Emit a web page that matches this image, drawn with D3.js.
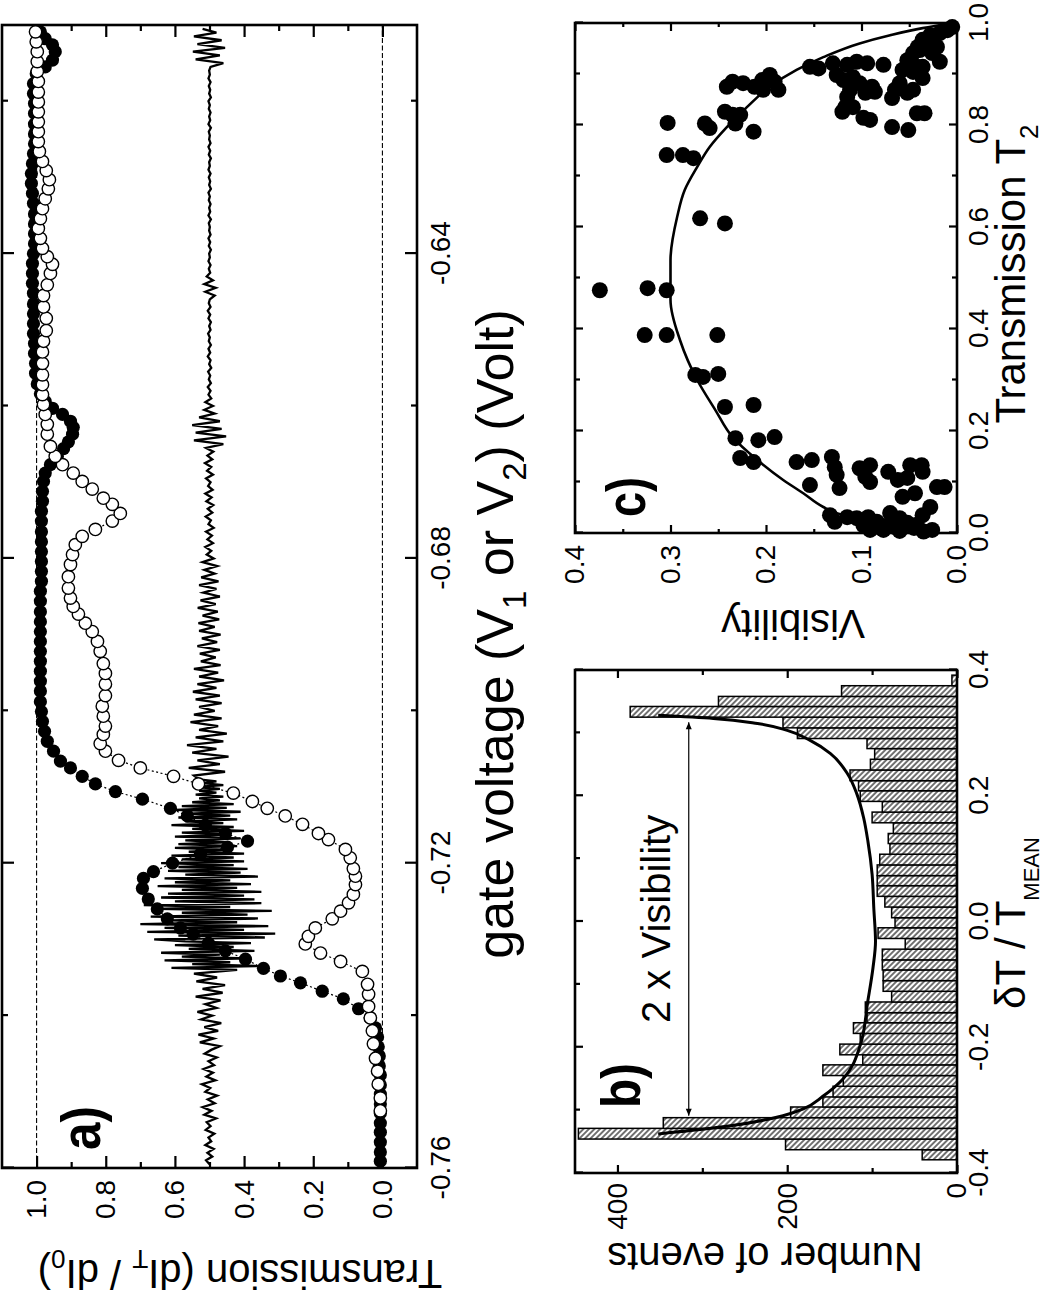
<!DOCTYPE html>
<html><head><meta charset="utf-8">
<script src="https://cdn.jsdelivr.net/npm/d3@7"></script>
<style>body{margin:0;background:#fff}svg{display:block}</style>
</head><body><svg id="chart" width="1050" height="1296"></svg>
<script>
// ---------- DATA ----------
// Panel a: transmission vs gate voltage
const filledCircles = [[-0.7591,0.006],[-0.7579,0.006],[-0.7566,0.006],[-0.7553,0.006],[-0.7541,0.006],[-0.7528,0.006],[-0.7516,0.006],[-0.7503,0.006],[-0.7491,0.006],[-0.7478,0.006],[-0.7466,0.009],[-0.7453,0.009],[-0.7441,0.012],[-0.7428,0.014],[-0.7416,0.020],[-0.7403,0.035],[-0.7391,0.069],[-0.7378,0.113],[-0.7368,0.174],[-0.7357,0.237],[-0.7348,0.295],[-0.7338,0.344],[-0.7326,0.396],[-0.7315,0.454],[-0.7305,0.503],[-0.7293,0.547],[-0.7285,0.584],[-0.7273,0.622],[-0.7260,0.651],[-0.7247,0.677],[-0.7233,0.694],[-0.7220,0.691],[-0.7211,0.662],[-0.7200,0.607],[-0.7188,0.526],[-0.7179,0.448],[-0.7171,0.390],[-0.7161,0.454],[-0.7150,0.512],[-0.7138,0.564],[-0.7128,0.613],[-0.7116,0.694],[-0.7106,0.772],[-0.7096,0.830],[-0.7086,0.868],[-0.7075,0.902],[-0.7066,0.931],[-0.7053,0.951],[-0.7040,0.969],[-0.7027,0.977],[-0.7014,0.983],[-0.7001,0.986],[-0.6988,0.989],[-0.6974,0.989],[-0.6961,0.989],[-0.6948,0.989],[-0.6935,0.989],[-0.6922,0.989],[-0.6909,0.989],[-0.6896,0.989],[-0.6883,0.989],[-0.6870,0.989],[-0.6856,0.989],[-0.6843,0.989],[-0.6830,0.986],[-0.6817,0.986],[-0.6804,0.986],[-0.6791,0.986],[-0.6778,0.986],[-0.6765,0.986],[-0.6751,0.986],[-0.6738,0.986],[-0.6725,0.983],[-0.6712,0.983],[-0.6699,0.980],[-0.6688,0.975],[-0.6677,0.960],[-0.6666,0.940],[-0.6656,0.922],[-0.6647,0.908],[-0.6637,0.896],[-0.6628,0.894],[-0.6620,0.902],[-0.6611,0.925],[-0.6603,0.954],[-0.6594,0.975],[-0.6584,0.989],[-0.6571,0.998],[-0.6557,1.003],[-0.6544,1.003],[-0.6531,1.006],[-0.6518,1.006],[-0.6505,1.009],[-0.6492,1.009],[-0.6479,1.009],[-0.6466,1.009],[-0.6452,1.009],[-0.6439,1.012],[-0.6426,1.012],[-0.6413,1.012],[-0.6400,1.009],[-0.6387,1.006],[-0.6374,1.006],[-0.6361,1.006],[-0.6348,1.006],[-0.6334,1.009],[-0.6321,1.012],[-0.6308,1.015],[-0.6295,1.015],[-0.6282,1.012],[-0.6269,1.009],[-0.6256,1.006],[-0.6243,1.006],[-0.6230,1.006],[-0.6216,1.006],[-0.6203,1.006],[-0.6190,1.009],[-0.6177,1.009],[-0.6164,1.001],[-0.6155,0.975],[-0.6146,0.954],[-0.6135,0.946],[-0.6126,0.954],[-0.6118,0.975],[-0.6109,0.989]];

const openCircles = [[-0.7525,0.006],[-0.7508,0.006],[-0.7490,0.012],[-0.7473,0.014],[-0.7456,0.020],[-0.7437,0.026],[-0.7420,0.029],[-0.7403,0.035],[-0.7388,0.040],[-0.7372,0.040],[-0.7359,0.043],[-0.7342,0.058],[-0.7329,0.121],[-0.7318,0.179],[-0.7306,0.223],[-0.7296,0.214],[-0.7285,0.194],[-0.7273,0.145],[-0.7263,0.121],[-0.7252,0.098],[-0.7241,0.084],[-0.7228,0.078],[-0.7217,0.078],[-0.7207,0.084],[-0.7193,0.093],[-0.7182,0.107],[-0.7169,0.156],[-0.7161,0.185],[-0.7149,0.231],[-0.7138,0.281],[-0.7128,0.333],[-0.7119,0.376],[-0.7108,0.431],[-0.7096,0.532],[-0.7086,0.604],[-0.7075,0.700],[-0.7065,0.763],[-0.7053,0.801],[-0.7043,0.816],[-0.7031,0.807],[-0.7020,0.801],[-0.7007,0.807],[-0.6994,0.810],[-0.6980,0.801],[-0.6965,0.801],[-0.6951,0.801],[-0.6938,0.807],[-0.6922,0.816],[-0.6909,0.824],[-0.6896,0.839],[-0.6885,0.859],[-0.6873,0.879],[-0.6863,0.894],[-0.6852,0.902],[-0.6839,0.908],[-0.6824,0.908],[-0.6808,0.902],[-0.6795,0.896],[-0.6782,0.888],[-0.6771,0.868],[-0.6762,0.830],[-0.6751,0.781],[-0.6741,0.758],[-0.6729,0.781],[-0.6721,0.807],[-0.6709,0.839],[-0.6699,0.868],[-0.6688,0.894],[-0.6677,0.925],[-0.6666,0.946],[-0.6653,0.960],[-0.6637,0.969],[-0.6624,0.969],[-0.6611,0.975],[-0.6598,0.980],[-0.6585,0.983],[-0.6572,0.983],[-0.6559,0.983],[-0.6544,0.983],[-0.6529,0.983],[-0.6515,0.980],[-0.6501,0.972],[-0.6485,0.972],[-0.6470,0.980],[-0.6455,0.980],[-0.6441,0.969],[-0.6426,0.960],[-0.6414,0.954],[-0.6404,0.969],[-0.6393,0.983],[-0.6380,0.989],[-0.6367,0.995],[-0.6354,0.989],[-0.6341,0.983],[-0.6328,0.975],[-0.6315,0.966],[-0.6303,0.963],[-0.6291,0.972],[-0.6279,0.983],[-0.6266,0.992],[-0.6253,0.995],[-0.6240,0.995],[-0.6227,0.995],[-0.6214,0.995],[-0.6201,0.995],[-0.6188,0.995],[-0.6174,0.995],[-0.6161,0.998],[-0.6148,0.998],[-0.6135,0.998],[-0.6122,1.001],[-0.6109,1.003]];

// noisy trace, three uniformly sampled stretches (start voltage, voltage step, values)
const noiseLowV0 = -0.7595, noiseLowDV = 0.0005;
const noiseLowT = [0.500,0.510,0.492,0.506,0.488,0.512,0.495,0.503,0.486,0.511,0.497,0.508,
0.481,0.515,0.494,0.520,0.485,0.505,0.478,0.512,0.498,0.522,0.483,0.509,0.490,0.517,0.487,0.503,0.479,0.514,0.495,
0.470,0.528,0.488,0.532,0.475,0.515,0.466,0.524,0.492,0.535,0.480,0.512,0.468,
0.540,0.462,0.520,0.455,0.538,0.478,0.545];
const noiseBurstV0 = -0.7340, noiseBurstDV = 0.00025;
const noiseBurstT = [0.42,0.61,0.36,0.55,0.44,0.63,0.39,0.58,0.47,0.64,0.37,0.56,0.43,0.60,0.38,0.57,
0.66,0.34,0.59,0.31,0.68,0.40,0.63,0.33,0.70,0.42,0.61,0.36,0.67,0.39,0.58,0.32,0.65,0.44,0.69,0.35,0.60,
0.37,0.64,0.40,0.62,0.35,0.58,0.42,0.65,0.38,0.60,0.44,0.63,0.36,0.57,0.41,0.62,0.39,0.59,0.43,0.64,0.40,
0.58,0.43,0.61,0.40,0.56,0.44,0.60,0.42,0.59,0.45,0.57,0.41,0.60,0.44,0.58,0.40,0.55,0.43,0.61,0.46,0.57,0.42,0.59,0.44,0.56,0.41,0.60,0.45,0.58,0.43,0.55,
0.47,0.53,0.46,0.54,0.48,0.53,0.47,0.54,0.46,0.52,0.48,0.53];
const noiseHighV0 = -0.7085, noiseHighDV = 0.0005;
const noiseHighT = [0.545,0.455,0.560,0.470,0.535,0.445,0.550,0.480,0.565,0.460,0.540,0.450,0.530,0.475,0.555,0.465,0.545,0.485,0.530,
0.465,0.540,0.470,0.548,0.480,0.535,0.458,0.530,0.475,0.545,0.468,0.525,0.482,
0.528,0.470,0.535,0.478,0.522,0.468,0.530,0.485,0.532,0.472,0.520,0.476,0.534,0.482,0.526,0.470,0.518,0.480,0.530,0.474,0.524,0.485,0.515,0.478,0.520,0.488,
0.508,0.495,0.512,0.490,0.506,0.493,0.510,0.488,0.503,0.496,0.511,0.492,0.505,0.489,0.509,0.494,0.512,0.491,0.504,0.497,0.510,0.490,0.507,0.495,0.513,0.492,0.506,0.489,0.510,
0.460,0.545,0.452,0.540,0.465,0.550,0.470,0.530,
0.485,0.515,0.490,0.512,0.495,
0.503,0.497,0.505,0.496,0.502,0.498,0.504,0.495,0.501,0.497,0.505,0.498,0.503,0.496,0.502,0.499,0.504,0.497,0.501,0.496,0.503,0.498,0.505,0.497,0.502,0.499,
0.485,0.512,0.482,0.515,0.490,0.508,
0.498,0.502,0.497,0.503,0.499,0.501,0.496,0.502,0.498,0.503,0.497,0.501,0.499,0.502,0.496,0.503,0.498,0.501,0.497,0.502,0.499,0.503,0.496,0.501,0.498,0.502,0.497,0.503,0.499,0.501,0.496,0.502,0.498,0.503,0.497,0.501,0.499,0.502,0.496,0.503,0.498,0.501,0.497,0.502,0.499,0.503,0.496,0.501,0.498,0.502,0.497,0.503,0.499,0.501,0.497,
0.460,0.540,0.470,0.548,0.455,0.535,0.465,0.545,0.480,0.520];

const aRefLines = [0.0, 1.0];
const aVMajor = [-0.76,-0.72,-0.68,-0.64];
const aVMinor = [-0.74,-0.70,-0.66,-0.62];
const aTMajor = [0,0.2,0.4,0.6,0.8,1.0];
const aTMinor = [0.1,0.3,0.5,0.7,0.9];

// Panel b: histogram
const binLo = [-0.379,-0.363,-0.346,-0.329,-0.312,-0.295,-0.279,-0.262,-0.245,-0.228,-0.212,-0.195,-0.178,-0.161,-0.145,-0.128,-0.111,-0.094,-0.077,-0.061,-0.044,-0.027,-0.010,0.006,0.023,0.040,0.057,0.073,0.090,0.107,0.124,0.140,0.157,0.174,0.191,0.208,0.224,0.241,0.258,0.275,0.291,0.308,0.325,0.342,0.358,0.375];
const binWidth = 0.0168;
const binCounts = [41,202,446,346,196,158,146,134,158,111,138,114,122,106,108,77,87,87,88,88,61,93,73,77,85,94,94,94,91,79,81,75,100,88,114,116,126,102,97,106,188,205,385,281,136,6];
const bFitDT = [-0.338,-0.325,-0.309,-0.298,-0.278,-0.250,-0.197,-0.126,-0.074,-0.032,0.021,0.075,0.128,0.165,0.203,0.235,0.267,0.288,0.304,0.315,0.323,0.328];
const bFitN  = [352,267,205,181,158,134,114,105,99,96,98,100,105,110,118,129,149,173,200,235,287,352];
const bArrow = {from:-0.309, to:0.317, at:316};
const bXMajor = [-0.4,-0.2,0,0.2,0.4];
const bXMinor = [-0.3,-0.1,0.1,0.3];
const bYMajor = [0,200,400];
const bYMinor = [100,300];

// Panel c: visibility vs transmission
const cPoints = [[0.476,0.374],[0.480,0.324],[0.476,0.304],[0.804,0.303],[0.741,0.304],[0.741,0.287],[0.735,0.276],[0.617,0.269],[0.607,0.243],[0.803,0.264],[0.794,0.259],[0.826,0.243],[0.820,0.235],[0.820,0.227],[0.803,0.232],[0.787,0.213],[0.875,0.241],[0.885,0.235],[0.882,0.224],[0.875,0.212],[0.888,0.204],[0.898,0.196],[0.885,0.191],[0.869,0.187],[0.869,0.203],[0.914,0.154],[0.911,0.145],[0.921,0.130],[0.898,0.126],[0.918,0.115],[0.924,0.105],[0.921,0.094],[0.918,0.077],[0.888,0.119],[0.894,0.109],[0.882,0.102],[0.875,0.089],[0.869,0.112],[0.855,0.115],[0.863,0.096],[0.865,0.086],[0.835,0.117],[0.826,0.120],[0.835,0.109],[0.814,0.098],[0.810,0.091],[0.796,0.068],[0.790,0.051],[0.853,0.068],[0.869,0.065],[0.882,0.060],[0.823,0.042],[0.823,0.034],[0.863,0.052],[0.869,0.046],[0.892,0.036],[0.908,0.057],[0.927,0.052],[0.941,0.046],[0.953,0.041],[0.961,0.031],[0.941,0.026],[0.924,0.018],[0.914,0.042],[0.914,0.036],[0.904,0.046],[0.973,0.025],[0.980,0.018],[0.986,0.010],[0.992,0.005],[0.953,0.021],[0.976,0.028],[0.967,0.036],[0.947,0.039],
[0.388,0.327],[0.388,0.304],[0.388,0.251],[0.310,0.274],[0.306,0.266],[0.312,0.250],[0.247,0.243],[0.251,0.213],[0.186,0.232],[0.182,0.208],[0.188,0.191],[0.147,0.227],[0.139,0.213],[0.139,0.168],[0.143,0.152],[0.094,0.154],[0.149,0.131],[0.129,0.128],[0.114,0.126],[0.088,0.123],[0.127,0.102],[0.133,0.091],[0.110,0.096],[0.100,0.091],[0.120,0.072],[0.104,0.062],[0.133,0.049],[0.133,0.037],[0.120,0.036],[0.108,0.052],[0.090,0.021],[0.090,0.013],[0.071,0.057],[0.078,0.044],[0.051,0.028],[0.035,0.036],[0.035,0.133],[0.022,0.128],[0.031,0.115],[0.029,0.105],[0.031,0.093],[0.022,0.084],[0.039,0.070],[0.029,0.060],[0.012,0.065],[0.020,0.052],[0.016,0.042],[0.006,0.026],[0.006,0.091],[0.006,0.077],[0.010,0.045],[0.003,0.035],[0.015,0.098],[0.004,0.060],[0.010,0.080],[0.018,0.070]];
const cFitT2 = [0.005,0.012,0.022,0.039,0.051,0.078,0.104,0.143,0.188,0.241,0.300,0.378,0.457,0.535,0.620,0.673,0.718,0.757,0.796,0.835,0.875,0.908,0.933,0.960,0.976,0.990,1.000];
const cFitVis = [0.042,0.065,0.088,0.126,0.140,0.161,0.182,0.209,0.235,0.253,0.272,0.290,0.300,0.300,0.293,0.285,0.272,0.259,0.241,0.220,0.196,0.168,0.140,0.102,0.070,0.036,0.004];
const cXMajor = [0,0.2,0.4,0.6,0.8,1.0];
const cXMinor = [0.1,0.3,0.5,0.7,0.9];
const cYMajor = [0,0.1,0.2,0.3,0.4];
const cYMinor = [0.05,0.15,0.25,0.35];

// ---------- DRAWING ----------
const FONT = '"Liberation Sans", Arial, Helvetica, sans-serif';
const svg = d3.select("#chart");
svg.append("rect").attr("width",1050).attr("height",1296).attr("fill","#fff");
const defs = svg.append("defs");
const pat = defs.append("pattern").attr("id","hatch").attr("patternUnits","userSpaceOnUse")
  .attr("width",3.9).attr("height",3.9).attr("patternTransform","rotate(-45)");
pat.append("rect").attr("width",3.9).attr("height",3.9).attr("fill","#fff");
pat.append("line").attr("x1",1.95).attr("y1",0).attr("x2",1.95).attr("y2",3.9).attr("stroke","#000").attr("stroke-width",1.1);

// whole figure is drawn landscape then turned a quarter turn counter-clockwise
const fig = svg.append("g").attr("transform","translate(0,1296) rotate(-90)").attr("font-family",FONT);

function addAxis(parent, orient, scale, pos, major, minor, majLen, minLen, fmt, pad) {
  const mk = {bottom:d3.axisBottom, top:d3.axisTop, left:d3.axisLeft, right:d3.axisRight}[orient];
  const tr = (orient==="bottom"||orient==="top") ? `translate(0,${pos})` : `translate(${pos},0)`;
  const g1 = parent.append("g").attr("transform",tr)
    .call(mk(scale).tickValues(major).tickSize(-majLen).tickPadding(pad||0).tickFormat(fmt||(()=>"")));
  const g2 = parent.append("g").attr("transform",tr)
    .call(mk(scale).tickValues(minor).tickSize(-minLen).tickFormat(()=>""));
  [g1,g2].forEach(g=>{
    g.attr("font-family",FONT).attr("font-size",28);
    g.select(".domain").remove();
    g.selectAll("line").attr("stroke","#000").attr("stroke-width",2.2);
    g.selectAll("text").attr("fill","#000");
  });
}
function rich(sel, parts, size, subSize, shift) {
  let cur = 0;
  parts.forEach(p=>{
    const ts = sel.append("tspan").text(p.t);
    if (p.sub) { ts.attr("font-size",subSize).attr("dy",shift-cur); cur = shift; }
    else { ts.attr("font-size",size); if (cur) { ts.attr("dy",-cur); cur = 0; } }
  });
}

// ----- Panel a -----
const ax = d3.scaleLinear().domain([-0.76,-0.61]).range([128,1271]);
const ay = d3.scaleLinear().domain([-0.1,1.1]).range([417,2]);
const pa = fig.append("g");
pa.selectAll("line.ref").data(aRefLines).join("line").attr("class","ref")
  .attr("x1",ax(-0.76)).attr("x2",ax(-0.61)).attr("y1",d=>ay(d)).attr("y2",d=>ay(d))
  .attr("stroke","#000").attr("stroke-width",1.1).attr("stroke-dasharray","5,2.5");
addAxis(pa,"bottom",ax,417,aVMajor,aVMinor,12,6,d=>d.toFixed(2),13);
addAxis(pa,"top",ax,2,aVMajor,aVMinor,12,6,null,0);
addAxis(pa,"left",ay,128,aTMajor,aTMinor,12,6,d=>d.toFixed(1),12);
addAxis(pa,"right",ay,1271,aTMajor,aTMinor,12,6,null,0);

const noisePts = [].concat(
  noiseLowT.map((t,i)=>[noiseLowV0+i*noiseLowDV, t]),
  noiseBurstT.map((t,i)=>[noiseBurstV0+i*noiseBurstDV, t]),
  noiseHighT.map((t,i)=>[noiseHighV0+i*noiseHighDV, t]));
pa.append("path").datum(noisePts)
  .attr("d",d3.line().x(d=>ax(d[0])).y(d=>ay(d[1])))
  .attr("fill","none").attr("stroke","#000").attr("stroke-width",2.3).attr("stroke-linejoin","miter");

const lineA = d3.line().x(d=>ax(d[0])).y(d=>ay(d[1]));
pa.append("path").datum(filledCircles).attr("d",lineA).attr("fill","none")
  .attr("stroke","#000").attr("stroke-width",1.2).attr("stroke-dasharray","2,2.5");
pa.append("path").datum(openCircles).attr("d",lineA).attr("fill","none")
  .attr("stroke","#000").attr("stroke-width",1.2).attr("stroke-dasharray","2,2.5");
pa.selectAll("circle.f").data(filledCircles).join("circle").attr("class","f")
  .attr("cx",d=>ax(d[0])).attr("cy",d=>ay(d[1])).attr("r",6.6).attr("fill","#000");
pa.selectAll("circle.o").data(openCircles).join("circle").attr("class","o")
  .attr("cx",d=>ax(d[0])).attr("cy",d=>ay(d[1])).attr("r",6.2)
  .attr("fill","#fff").attr("stroke","#000").attr("stroke-width",1.4);
pa.append("rect").attr("x",128).attr("y",2).attr("width",1143).attr("height",415)
  .attr("fill","none").attr("stroke","#000").attr("stroke-width",2.6);
pa.append("text").attr("x",146).attr("y",100).attr("font-size",56).attr("font-weight","bold")
  .attr("textLength",44).attr("lengthAdjust","spacingAndGlyphs").text("a)");
rich(pa.append("text").attr("transform","translate(36,240) rotate(-90)").attr("text-anchor","middle"),
  [{t:"Transmission (dI"},{t:"T",sub:true},{t:" / dI"},{t:"0",sub:true},{t:")"}],40,26,10);
rich(pa.append("text").attr("x",662).attr("y",513).attr("text-anchor","middle"),
  [{t:"gate voltage (V"},{t:"1",sub:true},{t:" or V"},{t:"2",sub:true},{t:") (Volt)"}],52,33,13);

// ----- Panel b -----
const bx = d3.scaleLinear().domain([-0.4,0.4]).range([123,626]);
const by = d3.scaleLinear().domain([0,450]).range([957,575]);
const pb = fig.append("g");
addAxis(pb,"bottom",bx,957,bXMajor,bXMinor,8,5,d=>d.toFixed(1),11);
addAxis(pb,"top",bx,575,bXMajor,bXMinor,8,5,null,0);
addAxis(pb,"left",by,123,bYMajor,bYMinor,8,5,d=>String(d),10);
addAxis(pb,"right",by,626,bYMajor,bYMinor,8,5,null,0);
pb.selectAll("rect.bar").data(binCounts).join("rect").attr("class","bar")
  .attr("x",(d,i)=>bx(binLo[i]))
  .attr("width",(d,i)=>(i<binLo.length-1? bx(binLo[i+1]) : bx(binLo[i]+binWidth)) - bx(binLo[i]))
  .attr("y",d=>by(d)).attr("height",d=>by(0)-by(d))
  .attr("fill","url(#hatch)").attr("stroke","#000").attr("stroke-width",1.5);
pb.append("path").datum(bFitDT.map((v,i)=>[v,bFitN[i]]))
  .attr("d",d3.line().x(d=>bx(d[0])).y(d=>by(d[1])).curve(d3.curveMonotoneX))
  .attr("fill","none").attr("stroke","#000").attr("stroke-width",3);
const ayb = by(bArrow.at), x1b = bx(bArrow.from), x2b = bx(bArrow.to);
pb.append("line").attr("x1",x1b).attr("x2",x2b).attr("y1",ayb).attr("y2",ayb).attr("stroke","#000").attr("stroke-width",1.2);
pb.append("path").attr("d",`M${x2b},${ayb}L${x2b-7},${ayb-3}L${x2b-7},${ayb+3}Z M${x1b},${ayb}L${x1b+7},${ayb-3}L${x1b+7},${ayb+3}Z`).attr("fill","#000");
pb.append("rect").attr("x",123).attr("y",575).attr("width",503).attr("height",382)
  .attr("fill","none").attr("stroke","#000").attr("stroke-width",2.6);
pb.append("text").attr("x",188).attr("y",640).attr("font-size",56).attr("font-weight","bold")
  .attr("textLength",45).attr("lengthAdjust","spacingAndGlyphs").text("b)");
pb.append("text").attr("x",273).attr("y",670).attr("font-size",40).text("2 x Visibility");
pb.append("text").attr("transform","translate(53,765) rotate(-90)").attr("text-anchor","middle")
  .attr("font-size",40).text("Number of events");
rich(pb.append("text").attr("x",373).attr("y",1025).attr("text-anchor","middle"),
  [{t:"\u03B4T / T"},{t:"MEAN",sub:true}],42,22,14);

// ----- Panel c -----
const cx = d3.scaleLinear().domain([0,1]).range([763,1273]);
const cy = d3.scaleLinear().domain([0,0.4]).range([957,575]);
const pc = fig.append("g");
addAxis(pc,"bottom",cx,957,cXMajor,cXMinor,8,5,d=>d.toFixed(1),11);
addAxis(pc,"top",cx,575,cXMajor,cXMinor,8,5,null,0);
addAxis(pc,"left",cy,763,cYMajor,cYMinor,8,4,d=>d.toFixed(1),12);
addAxis(pc,"right",cy,1273,cYMajor,cYMinor,8,4,null,0);
pc.selectAll("circle.p").data(cPoints).join("circle").attr("class","p")
  .attr("cx",d=>cx(d[0])).attr("cy",d=>cy(d[1])).attr("r",8).attr("fill","#000");
pc.append("path").datum(cFitT2.map((v,i)=>[v,cFitVis[i]]))
  .attr("d",d3.line().x(d=>cx(d[0])).y(d=>cy(d[1])).curve(d3.curveMonotoneX))
  .attr("fill","none").attr("stroke","#000").attr("stroke-width",2.6);
pc.append("rect").attr("x",763).attr("y",575).attr("width",510).attr("height",382)
  .attr("fill","none").attr("stroke","#000").attr("stroke-width",2.6);
pc.append("text").attr("x",779).attr("y",645).attr("font-size",56).attr("font-weight","bold")
  .attr("textLength",40).attr("lengthAdjust","spacingAndGlyphs").text("c)");
pc.append("text").attr("transform","translate(686,793) rotate(-90)").attr("text-anchor","middle")
  .attr("font-size",40).text("Visibility");
rich(pc.append("text").attr("x",1022).attr("y",1025).attr("text-anchor","middle"),
  [{t:"Transmission T"},{t:"2",sub:true}],42,26,13);
</script></body></html>
